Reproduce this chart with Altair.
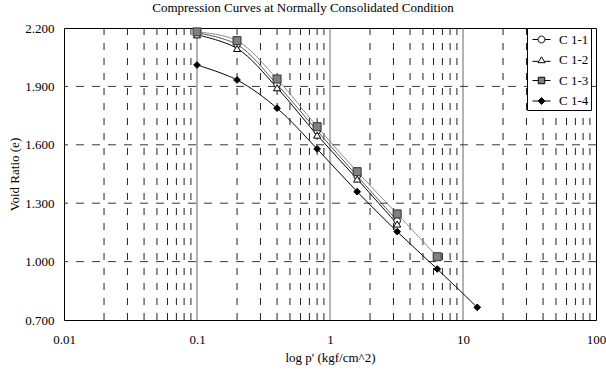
import altair as alt
import pandas as pd

# ---- data ----
pressure = [0.1, 0.2, 0.4, 0.8, 1.6, 3.2, 6.4, 12.8]
c1_1 = [2.175, 2.115, 1.910, 1.672, 1.440, 1.210]
c1_2 = [2.165, 2.095, 1.893, 1.650, 1.424, 1.193]
c1_3 = [2.180, 2.135, 1.938, 1.693, 1.462, 1.245, 1.025]
c1_4 = [2.010, 1.933, 1.788, 1.579, 1.359, 1.154, 0.962, 0.765]
series_names = ["C 1-1", "C 1-2", "C 1-3", "C 1-4"]

x_ticks = [0.01, 0.1, 1, 10, 100]
x_major_grid = [0.1, 1, 10]
x_minor_grid = [0.02, 0.03, 0.04, 0.05, 0.06, 0.07, 0.08, 0.09,
                0.2, 0.3, 0.4, 0.5, 0.6, 0.7, 0.8, 0.9,
                2, 3, 4, 5, 6, 7, 8, 9,
                20, 30, 40, 50, 60, 70, 80, 90]
y_ticks = [0.7, 1.0, 1.3, 1.6, 1.9, 2.2]
y_grid = [1.0, 1.3, 1.6, 1.9]

FONT = "Liberation Serif"
FS = 13

values = [c1_1, c1_2, c1_3, c1_4]
rows = []
for name, vals in zip(series_names, values):
    for p, e in zip(pressure, vals):
        rows.append({"series": name, "p": p, "e": e})
df = pd.DataFrame(rows)

xscale = alt.Scale(type="log", domain=[0.01, 100])
yscale = alt.Scale(domain=[0.7, 2.2], nice=False, zero=False)

X = alt.X("p:Q", scale=xscale,
          axis=alt.Axis(values=x_ticks, format="~g", title="log p' (kgf/cm^2)",
                        grid=False, ticks=False, domain=False, labelFlush=False,
                        labelPadding=13, titlePadding=5))
Y = alt.Y("e:Q", scale=yscale,
          axis=alt.Axis(values=y_ticks, format=".3f", title="Void Ratio (e)",
                        grid=False, ticks=False, domain=False, labelFlush=False,
                        labelPadding=10, titlePadding=3))

minor = alt.Chart(pd.DataFrame({"p": x_minor_grid})).mark_rule(
    color="#222", strokeWidth=1, strokeDash=[7, 8]).encode(x=alt.X("p:Q", scale=xscale))
major = alt.Chart(pd.DataFrame({"p": x_major_grid})).mark_rule(
    color="#666", strokeWidth=1).encode(x=alt.X("p:Q", scale=xscale))
hgrid = alt.Chart(pd.DataFrame({"e": y_grid})).mark_rule(
    color="#333", strokeWidth=1, strokeDash=[8, 8]).encode(y=alt.Y("e:Q", scale=yscale))

styles = {
    "C 1-1": dict(line="#555555", shape="circle", fill="white", stroke="black", size=45),
    "C 1-2": dict(line="#000000", shape="triangle-up", fill="white", stroke="black", size=50),
    "C 1-3": dict(line="#8a8a8a", shape="square", fill="#808080", stroke="#333333", size=64),
    "C 1-4": dict(line="#000000", shape="diamond", fill="black", stroke="black", size=45),
}

layers = [minor, major, hgrid]
base = alt.Chart(df)
for name in series_names:
    st = styles[name]
    sub = base.transform_filter(alt.datum.series == name)
    layers.append(sub.mark_line(color=st["line"], strokeWidth=1,
                                interpolate="catmull-rom").encode(x=X, y=Y))
for name in series_names:
    st = styles[name]
    sub = base.transform_filter(alt.datum.series == name)
    layers.append(sub.mark_point(shape=st["shape"], filled=True, fill=st["fill"],
                                 stroke=st["stroke"], strokeWidth=1, opacity=1,
                                 size=st["size"]).encode(x=X, y=Y))

# legend-only layer (no visible marks; legend driven by the explicit scale domain)
legend_paths = [
    "M-1,0H-0.38M0.38,0H1M0.38,0A0.38,0.38 0 1,1 -0.38,0A0.38,0.38 0 1,1 0.38,0Z",
    "M-1,0.15H-0.4M0.4,0.15H1M0,-0.35L0.4,0.3L-0.4,0.3Z",
    "M-1,0H-0.36M0.36,0H1M-0.36,-0.36H0.36V0.36H-0.36Z",
    "M-1,0H-0.38M0.38,0H1M0,-0.38L0.38,0L0,0.38L-0.38,0Z",
]
legend_fills = ["white", "white", "#808080", "black"]
legend_strokes = ["black", "black", "black", "black"]


def mk_legend():
    return alt.Legend(title=None, orient="none", legendX=463, legendY=0,
                      symbolSize=324, symbolStrokeWidth=1,
                      labelFont=FONT, labelFontSize=FS, labelColor="black",
                      labelOffset=8, symbolOffset=3,
                      padding=2, rowPadding=3.5,
                      strokeColor="black", fillColor="white")


legend_layer = base.transform_filter("false").mark_point(
    filled=True, strokeWidth=1, opacity=1).encode(
    x=alt.X("p:Q", scale=xscale),
    y=alt.Y("e:Q", scale=yscale),
    shape=alt.Shape("series:N", scale=alt.Scale(domain=series_names, range=legend_paths),
                    legend=mk_legend()),
    fill=alt.Fill("series:N", scale=alt.Scale(domain=series_names, range=legend_fills),
                  legend=mk_legend()),
    stroke=alt.Stroke("series:N", scale=alt.Scale(domain=series_names, range=legend_strokes),
                      legend=mk_legend()),
)
layers.append(legend_layer)

chart = alt.layer(*layers).properties(
    width=532, height=292,
    autosize=alt.AutoSizeParams(type="none"),
    padding={"left": 64, "top": 28, "right": 10, "bottom": 52},
    background="white",
    title=alt.Title("Compression Curves at Normally Consolidated Condition",
                    font=FONT, fontSize=FS, fontWeight="normal", color="black",
                    anchor="middle", offset=7, dx=-27),
).configure_view(stroke="black", strokeWidth=1).configure_axis(
    labelFont=FONT, labelFontSize=FS, labelColor="black",
    titleFont=FONT, titleFontSize=FS, titleColor="black", titleFontWeight="normal",
)

chart.save("out.html", embed_options={"renderer": "svg", "actions": False})
